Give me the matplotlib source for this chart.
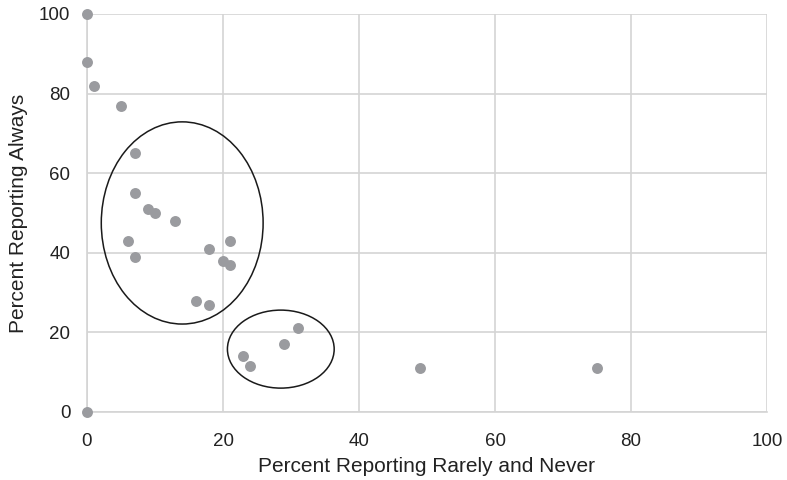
import matplotlib.pyplot as plt
from matplotlib.patches import Ellipse

plt.rcParams['font.family'] = ['Liberation Sans', 'DejaVu Sans']

# percent reporting rarely/never vs percent reporting always
rarely_never = [0, 0, 1, 5, 7, 7, 9, 10, 13, 6, 7, 18, 21, 20, 21, 16, 18,
                23, 24, 29, 31, 49, 75, 0]
always = [100, 88, 82, 77, 65, 55, 51, 50, 48, 43, 39, 41, 43, 38, 37, 28, 27,
          14, 11.5, 17, 21, 11, 11, 0]

ticks = [0, 20, 40, 60, 80, 100]

fig = plt.figure(figsize=(7.87, 4.8), dpi=100)
ax = fig.add_axes([87 / 787, 68 / 480, 680 / 787, 398 / 480])

ax.scatter(rarely_never, always, s=62, color='#9a9b9f', zorder=3, clip_on=False,
           linewidths=0)

# groups circled by hand in the original
ax.add_patch(Ellipse((14.0, 47.5), 23.8, 50.8, fill=False, edgecolor='#1a1a1a',
                     linewidth=1.1, zorder=4))
ax.add_patch(Ellipse((28.5, 15.8), 15.7, 19.6, fill=False, edgecolor='#1a1a1a',
                     linewidth=1.1, zorder=4))

ax.set_xlim(0, 100)
ax.set_ylim(0, 100)
ax.set_xticks(ticks)
ax.set_yticks(ticks)
ax.grid(True, color='#d4d4d4', linewidth=1.2)
ax.set_axisbelow(True)
for side in ['top', 'right']:
    ax.spines[side].set_visible(False)
for side in ['left', 'bottom']:
    ax.spines[side].set_color('#d4d4d4')
    ax.spines[side].set_linewidth(1.2)
ax.tick_params(length=0, labelsize=13.5, colors='#222222')
ax.tick_params(axis='x', pad=15)
ax.tick_params(axis='y', pad=12)

ax.set_xlabel('Percent Reporting Rarely and Never', fontsize=15, color='#222222',
              labelpad=5)
ax.set_ylabel('Percent Reporting Always', fontsize=15, color='#222222', labelpad=8)

fig.savefig('out.png', dpi=100)
